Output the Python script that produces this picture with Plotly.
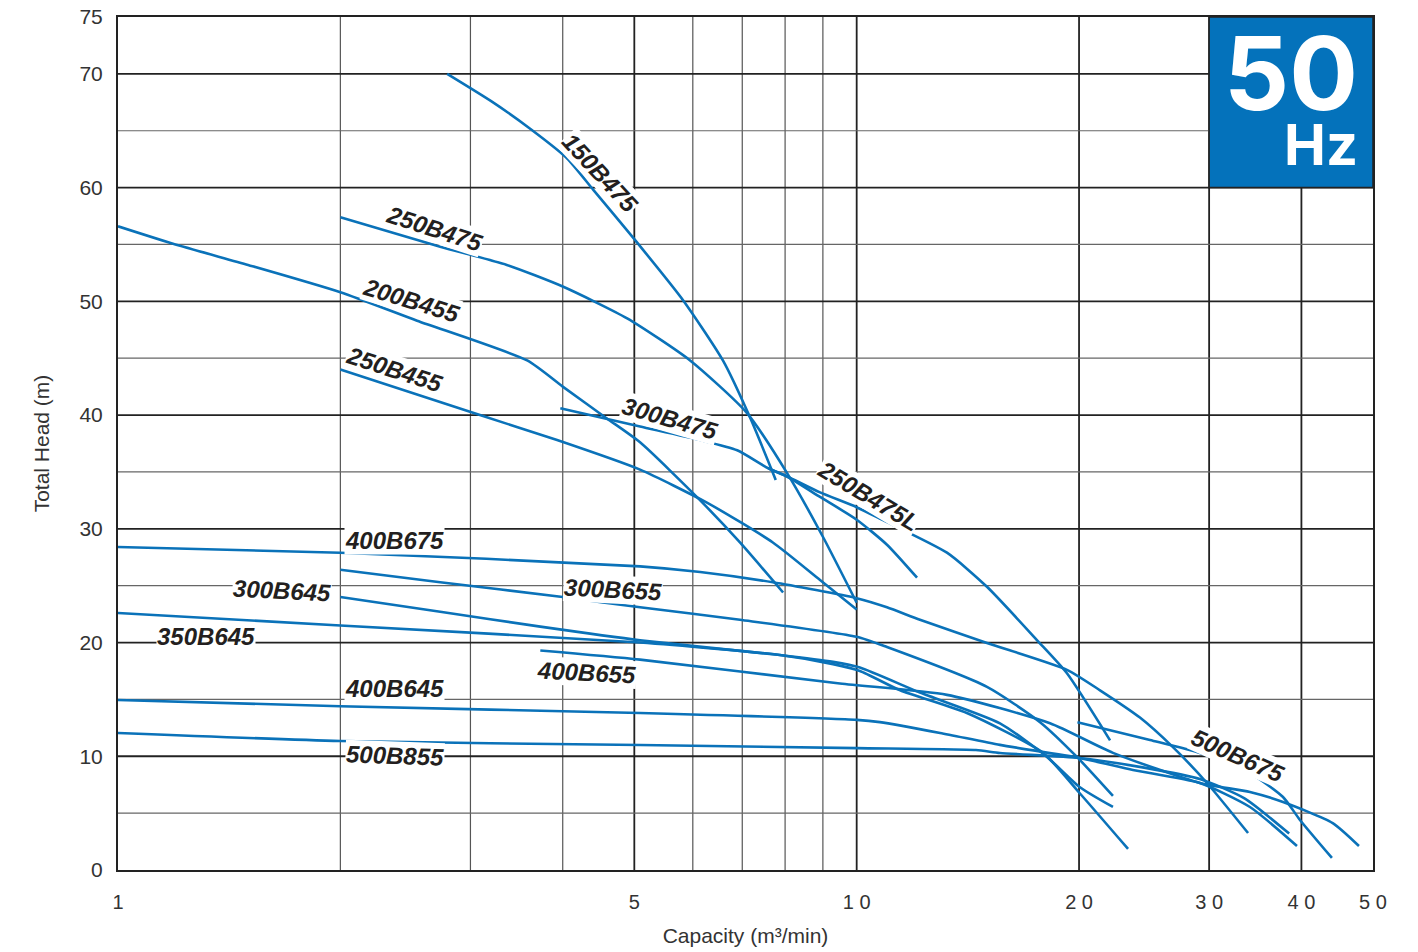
import math
import plotly.graph_objects as go

# ---------------- data (capacity m3/min, total head m) ----------------
q_150B475 = [2.79, 3.2, 3.61, 4.05, 4.40, 5.01, 5.82, 6.59, 7.17, 7.77]
h_150B475 = [70.0, 67.6, 65.2, 62.6, 59.8, 55.4, 50.1, 44.8, 39.8, 34.3]

q_250B475 = [2.0, 2.73, 3.36, 4.0, 4.89, 5.95, 7.10, 8.05, 9.0, 10.0]
h_250B475 = [57.4, 54.8, 53.2, 51.3, 48.5, 44.8, 40.2, 34.9, 29.3, 23.5]

q_200B455 = [1.0, 1.21, 1.50, 2.0, 2.54, 3.58, 4.0, 4.59, 5.09, 6.14, 6.95, 7.95]
h_200B455 = [56.6, 54.9, 53.2, 50.8, 48.3, 44.8, 42.5, 39.7, 37.6, 32.5, 28.8, 24.4]

q_250B455 = [2.0, 3.09, 3.93, 5.09, 6.27, 7.70, 8.92, 10.0]
h_250B455 = [44.0, 40.0, 37.8, 35.2, 32.3, 28.8, 25.5, 22.9]

q_300B475 = [3.97, 5.09, 6.14, 6.89, 7.6, 8.05, 8.92, 10.0, 10.99, 12.07]
h_300B475 = [40.6, 39.0, 37.8, 36.9, 35.3, 34.6, 32.8, 30.8, 28.6, 25.7]

q_250B475L = [7.6, 8.05, 8.92, 10.0, 10.82, 13.25, 15.01, 17.55, 19.26, 22.03]
h_250B475L = [35.3, 34.6, 33.2, 31.9, 30.8, 27.9, 24.9, 20.2, 17.3, 11.4]

q_400B675 = [1.0, 2.0, 5.09, 6.14, 7.70, 10.0, 10.99, 12.18, 15.01, 19.26, 21.35, 24.18, 26.8, 29.8, 33.87]
h_400B675 = [28.4, 27.9, 26.7, 26.2, 25.3, 23.9, 23.1, 22.0, 19.96, 17.6, 15.8, 13.4, 10.8, 7.65, 3.25]

q_300B655 = [2.0, 2.73, 4.0, 5.09, 6.95, 10.0, 10.99, 15.01, 17.71, 19.87, 22.23]
h_300B655 = [26.4, 25.3, 24.0, 23.1, 22.0, 20.5, 19.6, 16.1, 13.0, 9.94, 6.51]

q_300B645 = [2.0, 2.73, 3.73, 5.09, 7.87, 9.29, 10.1, 12.18, 15.63, 18.10, 20.03, 22.23]
h_300B645 = [24.0, 22.7, 21.4, 20.2, 18.9, 18.3, 17.8, 15.6, 12.9, 9.94, 7.3, 5.54]

q_350B645 = [1.0, 2.0, 5.09, 7.87, 9.29, 10.1, 11.45, 14.10, 17.87, 20.03, 23.3]
h_350B645 = [22.6, 21.5, 20.0, 18.9, 18.1, 17.5, 15.8, 13.8, 10.3, 6.77, 1.85]

q_400B655 = [3.73, 5.09, 9.49, 13.25, 18.27, 22.23, 29.15, 34.07, 37.77, 44.1, 47.86]
h_400B655 = [19.3, 18.5, 16.4, 15.4, 12.9, 10.3, 7.65, 6.86, 5.98, 4.13, 2.11]

q_400B645 = [1.0, 2.0, 5.09, 10.0, 10.75, 12.97, 15.63, 20.03, 23.66, 29.15, 34.07, 39.45]
h_400B645 = [14.95, 14.4, 13.8, 13.2, 13.0, 12.05, 11.0, 9.85, 8.8, 7.65, 5.54, 2.11]

q_500B855 = [1.0, 2.0, 5.09, 10.0, 14.5, 15.63, 20.03, 24.5, 29.15, 33.5, 38.5]
h_500B855 = [12.05, 11.34, 10.99, 10.72, 10.55, 10.29, 9.85, 9.0, 8.0, 6.3, 3.2]

q_500B675 = [19.9, 24.95, 29.15, 34.07, 37.77, 39.82, 43.99]
h_500B675 = [13.0, 11.43, 10.29, 8.53, 6.42, 4.40, 1.06]

# label placement (capacity, head, angle)
label_names = ["150B475", "250B475", "200B455", "250B455", "300B475", "250B475L", "400B675",
               "300B645", "300B655", "350B645", "400B655", "400B645", "500B855", "500B675"]
label_q = [4.49, 2.68, 2.50, 2.37, 5.59, 10.36, 2.37, 1.667, 4.68, 1.315, 4.31, 2.37, 2.37, 32.8]
label_h = [61.3, 56.4, 50.1, 44.0, 39.7, 32.9, 29.0, 24.6, 24.7, 20.5, 17.4, 16.0, 10.1, 10.1]
label_angle = [47, 18, 17, 18, 16, 31, 0, 3, 3, 0, 3, 0, 2, 24]

# axes
x_tick_vals = [1, 2, 3, 4, 5, 6, 7, 8, 9, 10, 20, 30, 40, 50]
x_tick_text = ["1", "", "", "", "5", "", "", "", "", "1 0", "2 0", "3 0", "4 0", "5 0"]
x_major = [5, 10, 20, 30, 40]
y_tick_vals = [0, 5, 10, 15, 20, 25, 30, 35, 40, 45, 50, 55, 60, 65, 70, 75]
y_tick_text = ["0", "", "10", "", "20", "", "30", "", "40", "", "50", "", "60", "", "70", "75"]
y_major = [10, 20, 30, 40, 50, 60, 70]

curves = {
    "150B475": (q_150B475, h_150B475),
    "250B475": (q_250B475, h_250B475),
    "200B455": (q_200B455, h_200B455),
    "250B455": (q_250B455, h_250B455),
    "300B475": (q_300B475, h_300B475),
    "250B475L": (q_250B475L, h_250B475L),
    "400B675": (q_400B675, h_400B675),
    "300B655": (q_300B655, h_300B655),
    "300B645": (q_300B645, h_300B645),
    "350B645": (q_350B645, h_350B645),
    "400B655": (q_400B655, h_400B655),
    "400B645": (q_400B645, h_400B645),
    "500B855": (q_500B855, h_500B855),
    "500B675": (q_500B675, h_500B675),
}

BLUE = "#0a72b9"
FONT = "Liberation Sans, Arial, Helvetica, sans-serif"
XMAX = 50
YMAX = 75

fig = go.Figure()
for name, (q, h) in curves.items():
    fig.add_trace(go.Scatter(x=q, y=h, mode="lines", name=name,
                             line=dict(color=BLUE, width=2.6, shape="spline", smoothing=0.6),
                             hoverinfo="name+x+y", showlegend=False))

def xpaper(v):
    return math.log10(v) / math.log10(XMAX)

shapes = []
for v in x_tick_vals[1:-1]:
    major = v in x_major
    shapes.append(dict(type="line", xref="paper", yref="paper", x0=xpaper(v), x1=xpaper(v), y0=0, y1=1,
                       line=dict(color="#222" if major else "#555", width=1.8 if major else 1.2), layer="below"))
for v in y_tick_vals[1:-1]:
    major = v in y_major
    shapes.append(dict(type="line", xref="paper", yref="y", x0=0, x1=1, y0=v, y1=v,
                       line=dict(color="#222" if major else "#666", width=1.8 if major else 1.2), layer="below"))
shapes.append(dict(type="rect", xref="paper", yref="y", x0=xpaper(30), x1=1, y0=60, y1=YMAX,
                   fillcolor="#0472bb", line=dict(color="#222", width=1.5), layer="below"))

annotations = []
for name, q, h, a in zip(label_names, label_q, label_h, label_angle):
    annotations.append(dict(x=math.log10(q), y=h, xref="x", yref="y", text="<b><i>%s</i></b>" % name,
                            showarrow=False, textangle=a, bgcolor="white", borderpad=0,
                            font=dict(family=FONT, size=24, color="#231f20")))

annotations.append(dict(x=0.9897, y=0.908, xref="paper", yref="paper",
                        text="<span style='font-size:102px'><b>50</b></span><br>"
                             "<span style='font-size:56px'><b>Hz</b></span>",
                        showarrow=False, xanchor="right", yanchor="middle", align="right",
                        font=dict(family="Inter, " + FONT, size=42, color="white")))

fig.update_layout(
    width=1418, height=952,
    margin=dict(l=118, r=45, t=17, b=82, autoexpand=False),
    paper_bgcolor="white", plot_bgcolor="white",
    shapes=shapes, annotations=annotations,
    font=dict(family=FONT, color="#333"),
    showlegend=False,
)
fig.update_xaxes(type="log", range=[0, math.log10(XMAX)], tickvals=x_tick_vals, ticktext=x_tick_text,
                 showgrid=False, zeroline=False, showline=True, mirror=True, linecolor="#222", linewidth=2,
                 ticks="", ticklabelstandoff=13, ticklabeloverflow="allow",
                 tickfont=dict(size=20, color="#333"), automargin=False,
                 title=dict(text="Capacity (m\u00b3/min)", font=dict(size=21, color="#333"), standoff=16))
fig.update_yaxes(range=[0, YMAX], tickvals=y_tick_vals, ticktext=y_tick_text,
                 showgrid=False, zeroline=False, showline=True, mirror=True, linecolor="#222", linewidth=2,
                 ticks="", ticklabelstandoff=9, ticklabeloverflow="allow",
                 tickfont=dict(size=21, color="#333"), automargin=False,
                 title=dict(text="Total Head (m)", font=dict(size=21, color="#333"), standoff=24))

# remove the browser's default 8px page margin so the figure fills the window exactly
fig.write_html("out.html", config={"displayModeBar": False},
               post_script="document.body.style.margin='0';")
